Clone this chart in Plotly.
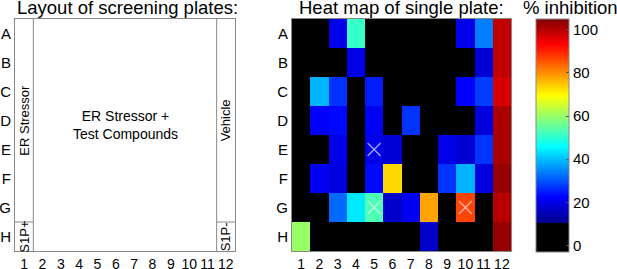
import plotly.graph_objects as go

row_labels = ["A", "B", "C", "D", "E", "F", "G", "H"]
col_labels = [str(i) for i in range(1, 13)]

# % inhibition per well (rows A..H, columns 1..12); black wells read as 0
inhibition = [
    [0, 0, 20, 51, 0, 0, 0, 0, 0, 20, 34, 99],
    [0, 0, 0, 20, 0, 0, 0, 0, 0, 0, 18, 99],
    [0, 39, 27, 0, 25, 0, 0, 0, 0, 22, 28, 97],
    [0, 22, 23, 0, 21, 0, 27, 0, 0, 0, 19, 101],
    [0, 0, 20, 0, 20, 18, 0, 0, 20, 18, 27, 101],
    [0, 21, 19, 0, 23, 73, 0, 0, 27, 39, 19, 103],
    [0, 0, 32, 44, 53, 17, 21, 78, 0, 87, 0, 100],
    [60, 0, 0, 0, 0, 0, 0, 17, 0, 0, 0, 103],
]

# wells flagged with an X (row index, column number)
flag_rows = [5, 7, 7]
flag_cols = [5, 5, 10]

cbar_ticks = [0, 20, 40, 60, 80, 100]

W, H = 617, 269
FONT = "Liberation Sans, Arial, Helvetica, sans-serif"


def px_x(x):
    return x / W


def px_y(y):
    return (H - y) / H


top, bottom = 19, 251
left_dom = [px_x(15), px_x(235)]
right_dom = [px_x(292), px_x(511)]
ydom = [px_y(bottom), px_y(top)]

# jet colormap with black bottom segment
def p(f):
    return 0.125 + 0.875 * f

colorscale = [
    [0.0, "rgb(0,0,0)"],
    [0.1249, "rgb(0,0,0)"],
    [0.125, "rgb(0,0,140)"],
    [p(1 / 8), "rgb(0,0,255)"],
    [p(3 / 8), "rgb(0,255,255)"],
    [p(5 / 8), "rgb(255,255,0)"],
    [p(7 / 8), "rgb(255,0,0)"],
    [1.0, "rgb(128,0,0)"],
]

fig = go.Figure()

# invisible trace to establish left axes
fig.add_trace(go.Scatter(x=[1, 12], y=[1, 8], mode="markers",
                         marker=dict(opacity=0), hoverinfo="skip",
                         showlegend=False, xaxis="x", yaxis="y"))

fig.add_trace(go.Heatmap(
    z=inhibition, x=list(range(1, 13)), y=list(range(1, 9)),
    colorscale=colorscale, zmin=-3, zmax=105,
    xaxis="x2", yaxis="y2",
    colorbar=dict(
        x=px_x(536), xanchor="left", xref="paper",
        y=px_y(top), yanchor="top", yref="paper",
        len=bottom - top + 1, lenmode="pixels",
        thickness=33, thicknessmode="pixels",
        outlinewidth=1, outlinecolor="#888",
        tickvals=cbar_ticks, ticks="inside", ticklen=3, tickcolor="#555",
        tickfont=dict(size=15, color="black", family=FONT),
        xpad=0, ypad=0,
    ),
))

xcol = "rgba(235,235,255,0.7)"
fig.add_trace(go.Scatter(
    x=flag_cols, y=flag_rows, mode="markers", xaxis="x2", yaxis="y2",
    marker=dict(symbol="x-thin", size=13, color=xcol,
                line=dict(color=xcol, width=1.3)),
    hoverinfo="skip", showlegend=False,
))

axis_common = dict(range=[0.5, 12.5], tickvals=list(range(1, 13)), ticktext=col_labels,
                   showgrid=False, zeroline=False, showline=True, mirror=True,
                   linecolor="#888", linewidth=1, ticks="", automargin=False,
                   tickfont=dict(size=14, color="black", family=FONT))
yaxis_common = dict(range=[8.5, 0.5], tickvals=list(range(1, 9)), ticktext=row_labels,
                    showgrid=False, zeroline=False, showline=True, mirror=True,
                    linecolor="#888", linewidth=1, ticks="", automargin=False,
                    tickfont=dict(size=15, color="black", family=FONT))

fig.update_layout(
    width=W, height=H,
    margin=dict(l=0, r=0, t=0, b=0, autoexpand=False),
    paper_bgcolor="white", plot_bgcolor="white",
    showlegend=False,
    xaxis=dict(domain=left_dom, anchor="y", **axis_common),
    yaxis=dict(domain=ydom, anchor="x", **yaxis_common),
    xaxis2=dict(domain=right_dom, anchor="y2", **axis_common),
    yaxis2=dict(domain=ydom, anchor="x2", **yaxis_common),
)

line = dict(color="#888", width=1)
shapes = [
    dict(type="line", xref="x", yref="y", x0=1.5, x1=1.5, y0=0.5, y1=8.5, line=line),
    dict(type="line", xref="x", yref="y", x0=11.5, x1=11.5, y0=0.5, y1=8.5, line=line),
    dict(type="line", xref="x", yref="y", x0=0.5, x1=1.5, y0=7.5, y1=7.5, line=line),
    dict(type="line", xref="x", yref="y", x0=11.5, x1=12.5, y0=7.5, y1=7.5, line=line),
]
fig.update_layout(shapes=shapes)

txt = dict(size=13, color="black", family=FONT)
title_font = dict(size=18.5, color="black", family=FONT)
ann = [
    dict(text="Layout of screening plates:", xref="paper", yref="paper",
         x=px_x(127), y=px_y(7.5), xanchor="center", yanchor="middle",
         showarrow=False, font=title_font),
    dict(text="Heat map of single plate:", xref="paper", yref="paper",
         x=px_x(401.5), y=px_y(7.5), xanchor="center", yanchor="middle",
         showarrow=False, font=title_font),
    dict(text="% inhibition", xref="paper", yref="paper",
         x=px_x(570), y=px_y(7.5), xanchor="center", yanchor="middle",
         showarrow=False, font=title_font),
    dict(text="ER Stressor", xref="x", yref="y", x=1, y=4, textangle=-90,
         showarrow=False, font=txt),
    dict(text="Vehicle", xref="x", yref="y", x=12, y=4, textangle=-90,
         showarrow=False, font=txt),
    dict(text="S1P+", xref="x", yref="y", x=1, y=8, textangle=-90,
         showarrow=False, font=txt),
    dict(text="S1P-", xref="x", yref="y", x=12, y=8, textangle=-90,
         showarrow=False, font=txt),
    dict(text="ER Stressor +<br>Test Compounds", xref="x", yref="y", x=6.5, y=4.15,
         showarrow=False, font=dict(size=14, color="black", family=FONT)),
]
fig.update_layout(annotations=ann)

fig.write_html("out.html", config={"displayModeBar": False},
               post_script="document.body.style.margin='0px';document.body.style.overflow='hidden';")
